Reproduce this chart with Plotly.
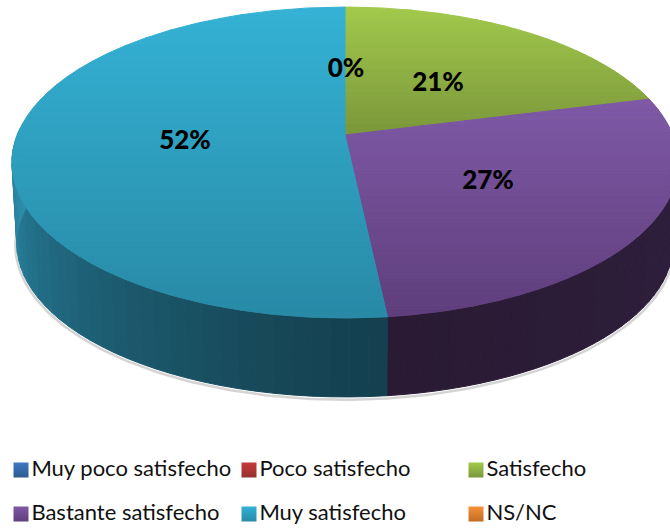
import math
import plotly.graph_objects as go

# ---------- data ----------
categories = ["Muy poco satisfecho", "Poco satisfecho", "Satisfecho",
              "Bastante satisfecho", "Muy satisfecho", "NS/NC"]
values = [0, 0, 21.0, 27.3, 51.7, 0]

# ---------- styles ----------
top_light = ["#3f78c0", "#c63a38", "#a3c94c", "#7f59a6", "#34b1d5", "#f79239"]
top_dark = ["#2c5a93", "#943130", "#7a973a", "#5f3e7c", "#288aa5", "#c06c25"]
wall_a = {3: "#2a1a33", 4: "#14404f"}     # colour next to the front seam
wall_b = {3: "#2f2040", 4: "#2c8fae"}     # colour at the outer end

W, H = 670, 528
CX, APEX_Y = 345.0, 135.0
A, B, K = 327.8, 150.6, 0.177
A2, B2, APEX_Y2 = 323.0, 148.5, 216.5


def project(theta, a=A, b=B, ay=APEX_Y):
    u, v = math.sin(theta), math.cos(theta)
    w = 1 + K * v
    return CX + a * u / w, ay - b * v / w


def mix(c1, c2, t):
    p = [int(c1[i:i + 2], 16) for i in (1, 3, 5)]
    q = [int(c2[i:i + 2], 16) for i in (1, 3, 5)]
    return "rgb(%d,%d,%d)" % tuple(round(p[i] + (q[i] - p[i]) * t) for i in range(3))


def clip(poly, y0, y1):
    def half(pts, inside, cross):
        out = []
        for i, p in enumerate(pts):
            q = pts[(i + 1) % len(pts)]
            if inside(p):
                out.append(p)
            if inside(p) != inside(q):
                t = (cross - p[1]) / (q[1] - p[1])
                out.append((p[0] + (q[0] - p[0]) * t, cross))
        return out
    r = half(poly, lambda p: p[1] >= y0, y0)
    return half(r, lambda p: p[1] <= y1, y1) if r else r


def band(fig, pts, color):
    xs = [p[0] for p in pts] + [pts[0][0]]
    ys = [p[1] for p in pts] + [pts[0][1]]
    fig.add_trace(go.Scatter(x=xs, y=ys, mode="lines", fill="toself", fillcolor=color,
                             line=dict(color=color, width=1), hoverinfo="skip",
                             showlegend=False))


fig = go.Figure()
total = sum(values)
starts = []
acc = 0.0
for val in values:
    starts.append(acc)
    acc += val
to_rad = lambda share: 2 * math.pi * share / total

# soft shadow round the wall
shadow_arc = [project(math.radians(d), A2 + 1.5, B2 + 1.5, APEX_Y2 + 1) for d in range(95, 277)]
fig.add_trace(go.Scatter(x=[p[0] for p in shadow_arc], y=[p[1] for p in shadow_arc], mode="lines",
                         line=dict(color="rgba(60,60,60,0.22)", width=2.5), hoverinfo="skip",
                         showlegend=False))

# side wall
for i, val in enumerate(values):
    if val <= 0:
        continue
    t0, t1 = to_rad(starts[i]), to_rad(starts[i] + val)
    lo, hi = max(t0, math.radians(88)), min(t1, math.radians(273))
    if hi <= lo:
        continue
    n = 36
    for j in range(n):
        a0 = lo + (hi - lo) * j / n
        a1 = lo + (hi - lo) * (j + 1) / n
        quad = [project(a0), project(a1),
                project(a1, A2, B2, APEX_Y2), project(a0, A2, B2, APEX_Y2)]
        f = (j + 0.5) / n
        t = f ** 1.3 if i == 4 else 1 - f
        band(fig, quad, mix(wall_a[i], wall_b[i], t))

# top surface
for i, val in enumerate(values):
    if val <= 0:
        continue
    t0, t1 = to_rad(starts[i]), to_rad(starts[i] + val)
    steps = max(8, int(val * 4))
    poly = [(CX, APEX_Y)] + [project(t0 + (t1 - t0) * s / steps) for s in range(steps + 1)]
    ymin, ymax = min(p[1] for p in poly), max(p[1] for p in poly)
    n = 40
    for j in range(n):
        y0 = ymin + (ymax - ymin) * j / n
        y1 = ymin + (ymax - ymin) * (j + 1) / n
        piece = clip(poly, y0, y1)
        if len(piece) >= 3:
            band(fig, piece, mix(top_light[i], top_dark[i], (j + 0.5) / n))

# data labels
label_xy = {2: (438, 84), 3: (488, 182), 4: (185, 142), 5: (346, 70)}
for i, (lx, ly) in label_xy.items():
    fig.add_trace(go.Scatter(x=[lx], y=[ly], mode="text", text=["%d%%" % round(values[i])],
                             textposition="middle center", hoverinfo="skip", showlegend=False,
                             textfont=dict(family="Lato", size=26, color="#000000", weight=900)))

# legend
legend_x = [21, 249, 476, 21, 249, 476]
legend_y = [470, 470, 470, 514, 514, 514]
for i, name in enumerate(categories):
    fig.add_trace(go.Scatter(x=[legend_x[i]], y=[legend_y[i]], mode="markers+text", name=name,
                             text=[name], textposition="middle right", hoverinfo="skip",
                             showlegend=False, cliponaxis=False,
                             marker=dict(symbol="square", size=15, color=top_light[i],
                                         gradient=dict(type="vertical", color=top_dark[i])),
                             textfont=dict(family="Lato", size=22, color="#111111")))

fig.update_layout(width=W, height=H, margin=dict(l=0, r=0, t=0, b=0), showlegend=False,
                  paper_bgcolor="white", plot_bgcolor="white",
                  xaxis=dict(range=[0, W], visible=False, fixedrange=True),
                  yaxis=dict(range=[H, 0], visible=False, fixedrange=True))
fig.write_html("out.html", config=dict(displayModeBar=False),
               default_width="%dpx" % W, default_height="%dpx" % H,
               post_script="document.body.style.margin='0';document.documentElement.style.overflow='hidden';")
